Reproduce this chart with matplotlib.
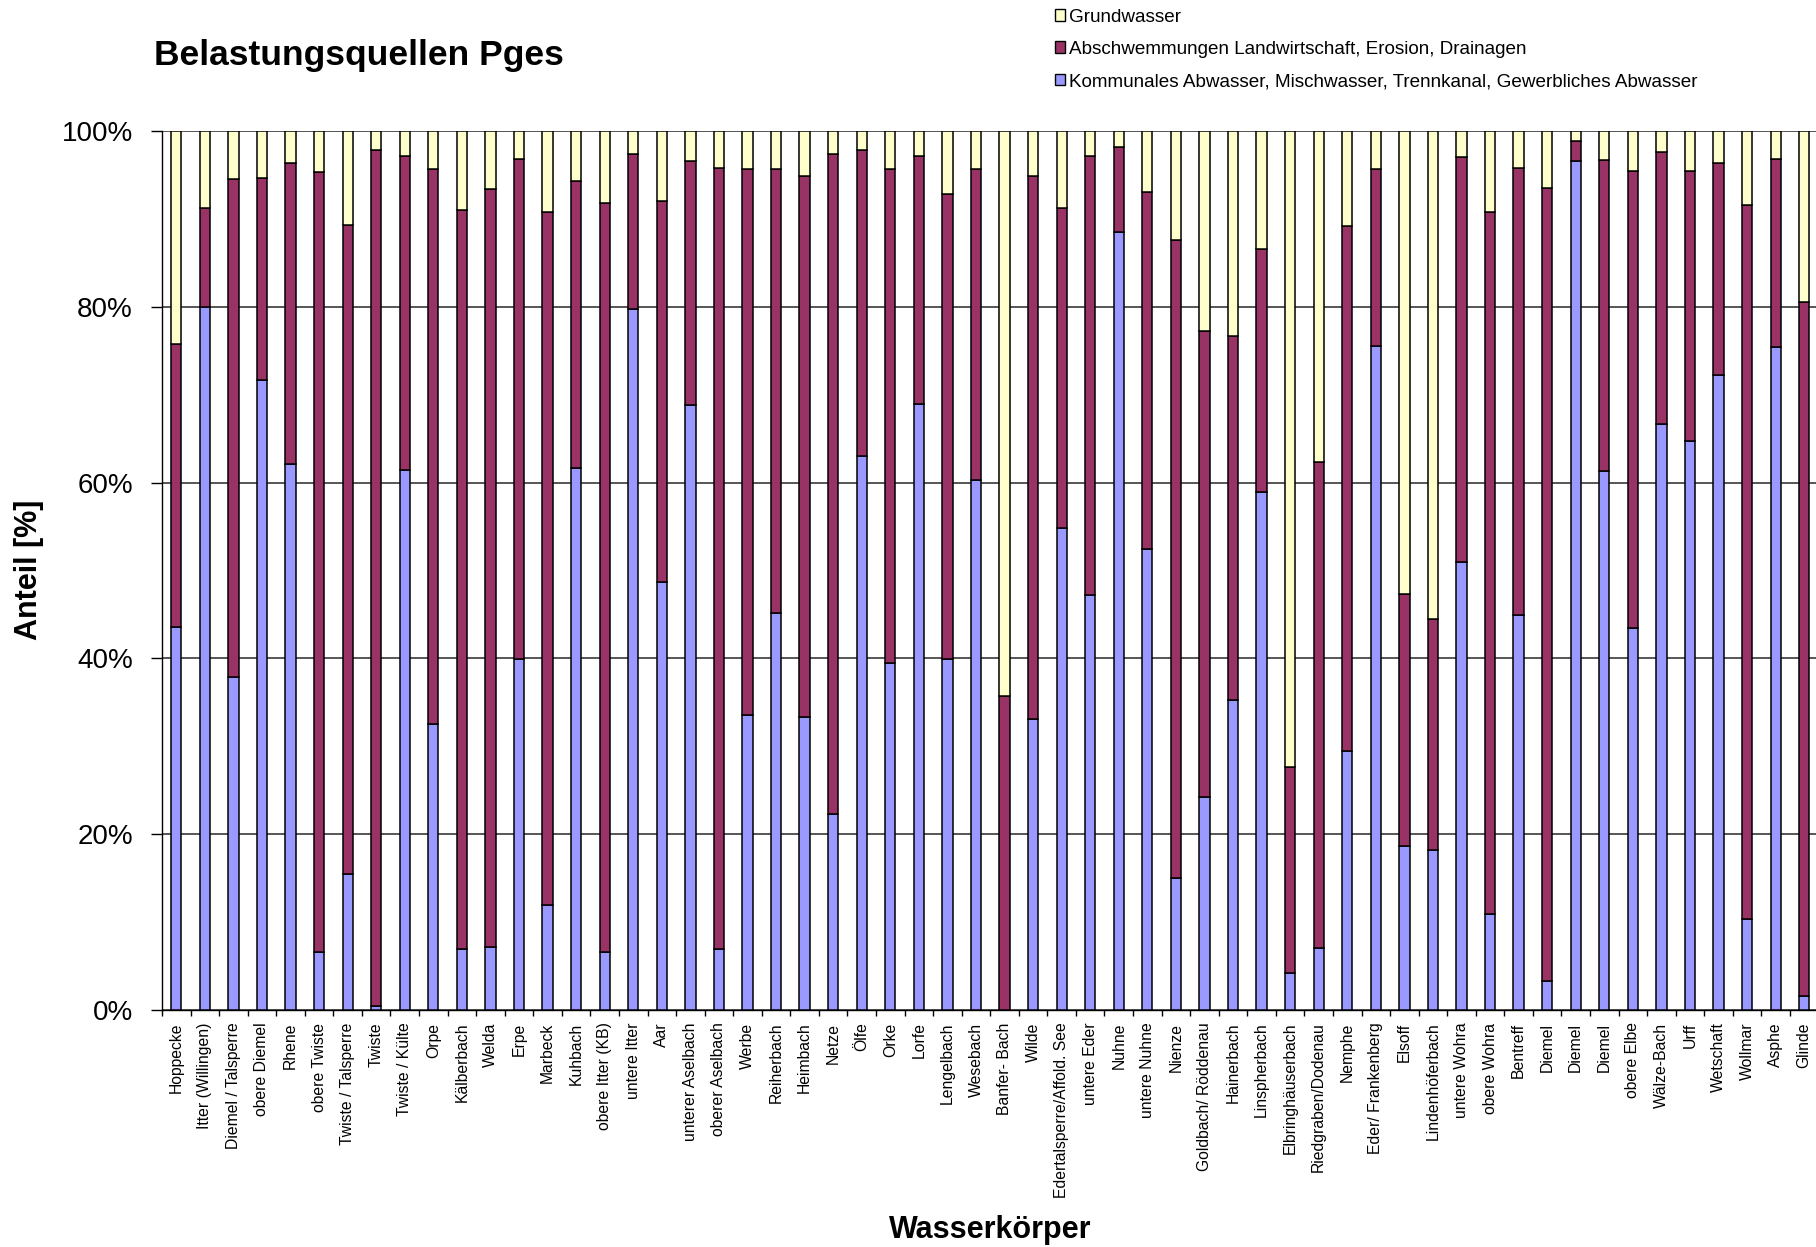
import numpy as np
import matplotlib.pyplot as plt
from matplotlib.patches import Patch

# Anteile der Belastungsquellen am Gesamtphosphor je Wasserkoerper [%]
wasserkoerper = [
    'Hoppecke', 'Itter (Willingen)', 'Diemel / Talsperre', 'obere Diemel', 'Rhene',
    'obere Twiste', 'Twiste / Talsperre', 'Twiste', 'Twiste / Külte', 'Orpe',
    'Kälberbach', 'Welda', 'Erpe', 'Marbeck', 'Kuhbach',
    'obere Itter (KB)', 'untere Itter', 'Aar', 'unterer Aselbach', 'oberer Aselbach',
    'Werbe', 'Reiherbach', 'Heimbach', 'Netze', 'Ölfe',
    'Orke', 'Lorfe', 'Lengelbach', 'Wesebach', 'Banfer- Bach',
    'Wilde', 'Edertalsperre/Affold. See', 'untere Eder', 'Nuhne', 'untere Nuhne',
    'Nienze', 'Goldbach/ Röddenau', 'Hainerbach', 'Linspherbach', 'Elbringhäuserbach',
    'Riedgraben/Dodenau', 'Nemphe', 'Eder/ Frankenberg', 'Elsoff', 'Lindenhöferbach',
    'untere Wohra', 'obere Wohra', 'Bentreff', 'Diemel', 'Diemel',
    'Diemel', 'obere Elbe', 'Wälze-Bach', 'Urff', 'Wetschaft',
    'Wollmar', 'Asphe', 'Glinde',
]

kommunal = [
    43.6, 80.0, 37.9, 71.7, 62.1, 6.6, 15.5, 0.4, 61.4, 32.5,
    6.9, 7.2, 39.9, 12.0, 61.7, 6.6, 79.8, 48.7, 68.8, 6.9,
    33.6, 45.2, 33.3, 22.3, 63.0, 39.5, 68.9, 39.9, 60.3, 0.0,
    33.1, 54.8, 47.2, 88.5, 52.4, 15.0, 24.2, 35.3, 58.9, 4.2,
    7.1, 29.5, 75.5, 18.7, 18.2, 51.0, 10.9, 44.9, 3.3, 96.6,
    61.3, 43.5, 66.7, 64.7, 72.2, 10.4, 75.4, 1.6,
]

landwirtschaft = [
    32.2, 11.2, 56.6, 23.0, 34.3, 88.7, 73.8, 97.4, 35.8, 63.2,
    84.1, 86.2, 56.9, 78.8, 32.6, 85.2, 17.6, 43.3, 27.8, 88.9,
    62.1, 50.5, 61.6, 75.1, 34.8, 56.2, 28.2, 52.9, 35.4, 35.7,
    61.8, 36.4, 50.0, 9.7, 40.7, 72.6, 53.0, 41.4, 27.7, 23.5,
    55.2, 59.7, 20.2, 28.6, 26.3, 46.0, 79.9, 50.9, 90.2, 2.3,
    35.4, 52.0, 30.9, 30.8, 24.2, 81.2, 21.4, 78.9,
]

grundwasser = [
    24.2, 8.8, 5.5, 5.3, 3.6, 4.7, 10.7, 2.2, 2.8, 4.3,
    9.0, 6.6, 3.2, 9.2, 5.7, 8.2, 2.6, 8.0, 3.4, 4.2,
    4.3, 4.3, 5.1, 2.6, 2.2, 4.3, 2.9, 7.2, 4.3, 64.3,
    5.1, 8.8, 2.8, 1.8, 6.9, 12.4, 22.8, 23.3, 13.4, 72.3,
    37.7, 10.8, 4.3, 52.7, 55.5, 3.0, 9.2, 4.2, 6.5, 1.1,
    3.3, 4.5, 2.4, 4.5, 3.6, 8.4, 3.2, 19.5,
]

labels = ['Kommunales Abwasser, Mischwasser, Trennkanal, Gewerbliches Abwasser',
          'Abschwemmungen Landwirtschaft, Erosion, Drainagen',
          'Grundwasser']
farben = ['#9999FF', '#993366', '#FFFFCC']

plt.rcParams['font.family'] = ['Liberation Sans', 'DejaVu Sans']

W, H = 1816, 1247
fig = plt.figure(figsize=(W / 100, H / 100), dpi=100)
# plot area runs slightly past the right edge of the figure
ax = fig.add_axes([162 / W, 1 - 1010 / H, 1656.5 / W, (1010 - 131) / H])

x = np.arange(len(wasserkoerper))
k = np.array(kommunal)
l = np.array(landwirtschaft)
g = np.array(grundwasser)
bw = 0.36

ax.bar(x, k, bw, color=farben[0], edgecolor='black', linewidth=1.1, zorder=3)
ax.bar(x, l, bw, bottom=k, color=farben[1], edgecolor='black', linewidth=1.1, zorder=3)
ax.bar(x, g, bw, bottom=k + l, color=farben[2], edgecolor='black', linewidth=1.1, zorder=3)

ax.set_xlim(-0.5, len(wasserkoerper) - 0.5)
ax.set_ylim(0, 100)

ax.set_yticks(np.arange(0, 101, 20))
ax.set_yticklabels([f'{v}%' for v in range(0, 101, 20)])
ax.tick_params(axis='y', length=7.9, width=1, labelsize=20, pad=13)
ax.yaxis.grid(True, color='#3a3a3a', linewidth=1.2, zorder=0)
ax.set_axisbelow(True)

ax.set_xticks(x)
ax.set_xticklabels(wasserkoerper, rotation=90, fontsize=11.3, va='top', ha='center')
ax.set_xticks(np.arange(-0.5, len(wasserkoerper), 1), minor=True)
ax.tick_params(axis='x', which='major', length=0, pad=9)
ax.tick_params(axis='x', which='minor', length=4.3, width=1)

for s in ['top', 'right']:
    ax.spines[s].set_visible(False)
for s in ['left', 'bottom']:
    ax.spines[s].set_linewidth(1.0)
    ax.spines[s].set_color('black')

fig.text(154 / W, 1 - 56 / H, 'Belastungsquellen Pges', fontsize=25.5,
         fontweight='bold', va='center', ha='left')
fig.text(29 / W, 1 - 570 / H, 'Anteil [%]', fontsize=22, fontweight='bold',
         rotation=90, va='center', ha='center')
fig.text(990 / W, 1 - 1230 / H, 'Wasserkörper', fontsize=22, fontweight='bold',
         va='center', ha='center')

handles = [Patch(facecolor=farben[i], edgecolor='black', linewidth=1.0, label=labels[i])
           for i in (2, 1, 0)]
fig.legend(handles=handles, loc='upper left', bbox_to_anchor=(1055 / W, 1 - 8.5 / H),
           frameon=False, fontsize=13.6, handlelength=0.55, handleheight=0.55,
           handletextpad=0.2, labelspacing=0.81, borderpad=0, borderaxespad=0)

fig.savefig('out.png', dpi=100)
